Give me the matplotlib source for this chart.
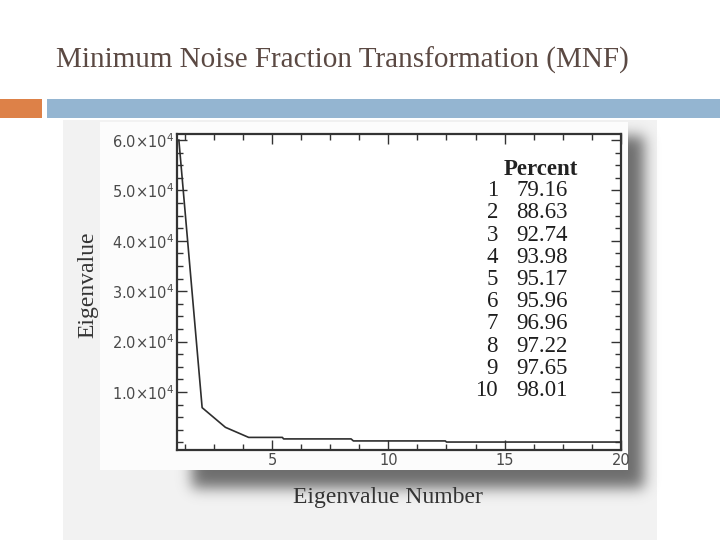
import numpy as np
import matplotlib
matplotlib.use("Agg")
import matplotlib.pyplot as plt
from matplotlib.patches import Rectangle
from matplotlib.ticker import MultipleLocator

# ---------------- data ----------------
title = "Minimum Noise Fraction Transformation (MNF)"
eig_x = [1, 2, 3, 4, 5.45, 5.5, 8.4, 8.5, 12.45, 12.5, 20]
eig_y = [60000, 6900, 3000, 1000, 1000, 700, 700, 300, 300, 80, 80]
ytick_vals = [10000, 20000, 30000, 40000, 50000, 60000]
ytick_labels = ["1.0×10$^{4}$", "2.0×10$^{4}$", "3.0×10$^{4}$",
                "4.0×10$^{4}$", "5.0×10$^{4}$", "6.0×10$^{4}$"]
xtick_vals = [5, 10, 15, 20]
components = ["1", "2", "3", "4", "5", "6", "7", "8", "9", "10"]
percents = ["79.16", "88.63", "92.74", "93.98", "95.17",
            "95.96", "96.96", "97.22", "97.65", "98.01"]

W, H = 720, 540
fig = plt.figure(figsize=(7.2, 5.4), dpi=100)
fig.patch.set_facecolor("white")

# ---------------- slide background (pixel coordinates) ----------------
bg = fig.add_axes([0, 0, 1, 1], zorder=0)
bg.set_xlim(0, W)
bg.set_ylim(H, 0)
bg.axis("off")

bg.text(56, 60, title, fontsize=21, family="Liberation Serif",
        color="#5b4943", ha="left", va="center")
bg.add_patch(Rectangle((0, 99), 42, 19, color="#dd8148", lw=0))
bg.add_patch(Rectangle((47, 99), W - 47, 19, color="#94b5d1", lw=0))

# scanned page area
bg.add_patch(Rectangle((63, 120), 594, 420, color="#f2f2f2", lw=0))

# drop shadow (blurred offset rectangle)
mask = np.zeros((H, W))
mask[136:488, 192:644] = 1.0
sig = 7.0
k = np.arange(-24, 25)
ker = np.exp(-0.5 * (k / sig) ** 2)
ker /= ker.sum()
mask = np.apply_along_axis(lambda r: np.convolve(r, ker, mode="same"), 1, mask)
mask = np.apply_along_axis(lambda c: np.convolve(c, ker, mode="same"), 0, mask)
rgba = np.zeros((H, W, 4))
rgba[..., 0:3] = 0.30
rgba[..., 3] = np.clip(mask * 0.8, 0, 1)
bg.imshow(rgba, extent=(0, W, H, 0), interpolation="bilinear", zorder=2)

# white figure panel
bg.add_patch(Rectangle((100, 122), 528, 348, color="#fcfcfc", lw=0, zorder=3))

# ---------------- chart ----------------
L, R, T, B = 177, 621, 134, 450
ax = fig.add_axes([L / W, 1 - B / H, (R - L) / W, (B - T) / H], zorder=2)
ax.set_facecolor("white")
ax.plot(eig_x, eig_y, color="#2e2e2e", lw=1.2)
ax.set_xlim(0.92, 20)
ax.set_ylim(-1500, 61200)

ax.set_yticks(ytick_vals)
ax.set_yticklabels(ytick_labels)
ax.yaxis.set_minor_locator(MultipleLocator(2500))
ax.set_xticks(xtick_vals)
ax.set_xticklabels([str(v) for v in xtick_vals])
ax.xaxis.set_minor_locator(MultipleLocator(1.25))

ax.tick_params(which="both", direction="in", top=True, right=True,
               color="#333333", width=1.0)
ax.tick_params(which="major", length=7, labelsize=10.5,
               labelcolor="#4a4a4a", pad=2)
ax.tick_params(which="minor", length=4)
for s in ax.spines.values():
    s.set_linewidth(1.6)
    s.set_color("#333333")

ax.set_ylabel("Eigenvalue", family="Liberation Serif", fontsize=17,
              color="#333333", va="center")
ax.yaxis.set_label_coords((88 - L) / (R - L), (B - 285) / (B - T))
ax.set_xlabel("Eigenvalue Number", family="Liberation Serif", fontsize=17,
              color="#333333", va="center")
ax.xaxis.set_label_coords((388 - L) / (R - L), (B - 497) / (B - T))

# percent table
def ax_x(px):
    return (px - L) / (R - L)

def ax_y(py):
    return (B - py) / (B - T)

ax.text(ax_x(541), ax_y(169), "Percent", transform=ax.transAxes,
        family="Liberation Serif", fontweight="bold", fontsize=16.5,
        color="#222222", ha="center", va="center")
for i, (c, p) in enumerate(zip(components, percents)):
    yy = ax_y(190.7 + i * 22.2)
    ax.text(ax_x(498), yy, c, transform=ax.transAxes,
            family="Liberation Serif", fontsize=16.5, color="#1e1e1e",
            ha="right", va="center")
    ax.text(ax_x(516), yy, p, transform=ax.transAxes,
            family="Liberation Serif", fontsize=16.5, color="#1e1e1e",
            ha="left", va="center")

fig.savefig("out.png", dpi=100)
